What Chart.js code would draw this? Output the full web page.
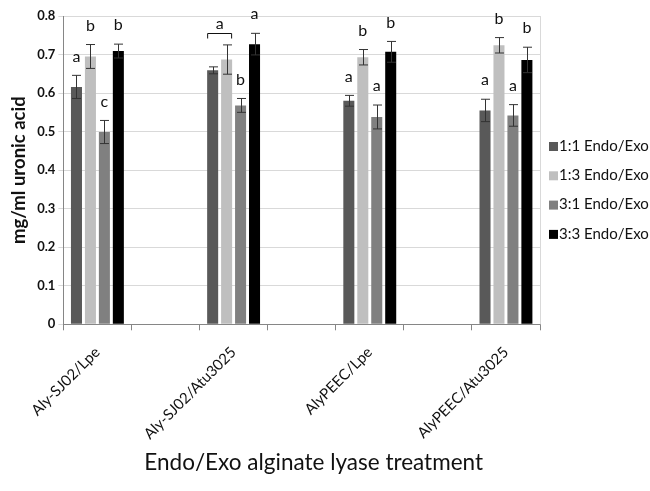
<!DOCTYPE html>
<html>
<head>
<meta charset="utf-8">
<script src="https://cdn.jsdelivr.net/npm/chart.js@4.4.0/dist/chart.umd.min.js"></script>
<style>
  body { margin: 0; background: #fff; }
  #caixa { width: 650px; height: 491px; }
</style>
</head>
<body>
<div id="caixa"><canvas id="grafico"></canvas></div>
<script>
// categorias (com espacos vazios entre os grupos)
var categorias = ['Aly-SJ02/Lpe', '', 'Aly-SJ02/Atu3025', '', 'AlyPEEC/Lpe', '', 'AlyPEEC/Atu3025'];
var series = ['1:1 Endo/Exo', '1:3 Endo/Exo', '3:1 Endo/Exo', '3:3 Endo/Exo'];
var cores = ['#595959', '#bfbfbf', '#808080', '#000000'];
var tituloX = 'Endo/Exo alginate lyase treatment';

// medias
var v11 = [0.616, null, 0.659, null, 0.580, null, 0.555];
var v13 = [0.695, null, 0.687, null, 0.693, null, 0.724];
var v31 = [0.499, null, 0.568, null, 0.538, null, 0.542];
var v33 = [0.709, null, 0.727, null, 0.707, null, 0.686];

// desvios
var e11 = [0.030, null, 0.009, null, 0.014, null, 0.029];
var e13 = [0.031, null, 0.038, null, 0.020, null, 0.020];
var e31 = [0.030, null, 0.018, null, 0.031, null, 0.028];
var e33 = [0.018, null, 0.028, null, 0.027, null, 0.033];

// letras de significancia
var l11 = ['a', '', '', '', 'a', '', 'a'];
var l13 = ['b', '', '', '', 'b', '', 'b'];
var l31 = ['c', '', 'b', '', 'a', '', 'a'];
var l33 = ['b', '', 'a', '', 'b', '', 'b'];
// colchete "a" sobre 1:1 e 1:3 no segundo grupo
var colchete = { categoria: 2, de: 0, ate: 1, letra: 'a' };

var ticksY = { min: 0, max: 0.8, passo: 0.1 };

var valores = [v11, v13, v31, v33];
var erros = [e11, e13, e31, e33];
var letras = [l11, l13, l31, l33];

var fonte = 'Lato, "Open Sans", sans-serif';

//..........BARRAS DE ERRO, LETRAS, LEGENDA E TITULO X..........
var extras = {
    id: 'extras',
    afterDatasetsDraw: function(chart) {
        var ctx = chart.ctx;
        var y = chart.scales.y;
        var area = chart.chartArea;
        ctx.save();

        // borda direita
        ctx.strokeStyle = '#d9d9d9';
        ctx.lineWidth = 1;
        ctx.beginPath();
        ctx.moveTo(Math.round(area.right) + 0.5, area.top);
        ctx.lineTo(Math.round(area.right) + 0.5, area.bottom);
        ctx.stroke();

        ctx.font = '16px ' + fonte;
        ctx.textAlign = 'center';
        ctx.textBaseline = 'middle';

        for (var i = 0; i < valores.length; i++) {
            var meta = chart.getDatasetMeta(i);
            for (var j = 0; j < categorias.length; j++) {
                var v = valores[i][j];
                if (v === null) continue;
                var barra = meta.data[j];
                var x = Math.round(barra.x) + 0.5;
                var topo = y.getPixelForValue(v + erros[i][j]);
                var base = y.getPixelForValue(v - erros[i][j]);
                ctx.strokeStyle = '#333';
                ctx.beginPath();
                ctx.moveTo(x, topo); ctx.lineTo(x, base);
                ctx.moveTo(x - 4.5, topo); ctx.lineTo(x + 4.5, topo);
                ctx.moveTo(x - 4.5, base); ctx.lineTo(x + 4.5, base);
                ctx.stroke();
                if (letras[i][j]) {
                    ctx.fillStyle = '#111';
                    ctx.fillText(letras[i][j], barra.x, topo - 19);
                }
            }
        }

        // colchete
        var b1 = chart.getDatasetMeta(colchete.de).data[colchete.categoria];
        var b2 = chart.getDatasetMeta(colchete.ate).data[colchete.categoria];
        var maxTopo = Math.min(
            y.getPixelForValue(valores[colchete.de][colchete.categoria] + erros[colchete.de][colchete.categoria]),
            y.getPixelForValue(valores[colchete.ate][colchete.categoria] + erros[colchete.ate][colchete.categoria]));
        var yc = Math.round(maxTopo - 12) + 0.5;
        ctx.strokeStyle = '#111';
        ctx.beginPath();
        ctx.moveTo(b1.x - 5, yc + 5); ctx.lineTo(b1.x - 5, yc);
        ctx.lineTo(b2.x + 5, yc); ctx.lineTo(b2.x + 5, yc + 5);
        ctx.stroke();
        ctx.fillStyle = '#111';
        ctx.fillText(colchete.letra, (b1.x + b2.x) / 2, yc - 10);

        // legenda
        ctx.font = '15px ' + fonte;
        ctx.textAlign = 'left';
        for (var k = 0; k < series.length; k++) {
            var ly = area.top + 130 + k * 29.3;
            ctx.fillStyle = cores[k];
            ctx.fillRect(area.right + 9, ly - 4, 9, 9);
            ctx.fillStyle = '#111';
            ctx.fillText(series[k], area.right + 19, ly);
        }

        // titulo do eixo x
        ctx.font = '22.5px ' + fonte;
        ctx.textAlign = 'center';
        ctx.fillText(tituloX, (area.left + area.right) / 2 + 12, chart.height - 28);
        ctx.restore();
    }
};

var conjuntos = valores.map(function(d, i) {
    return {
        label: series[i],
        data: d,
        backgroundColor: cores[i],
        borderWidth: 0,
        categoryPercentage: 0.82,
        barPercentage: 0.79
    };
});

var ctx = document.getElementById('grafico').getContext('2d');
var grafico = new Chart(ctx, {
    type: 'bar',
    data: { labels: categorias, datasets: conjuntos },
    options: {
        responsive: true,
        maintainAspectRatio: false,
        animation: false,
        layout: { padding: { top: 16, right: 110, bottom: 35, left: 4 } },
        plugins: {
            legend: { display: false },
            tooltip: { enabled: false }
        },
        scales: {
            x: {
                grid: { offset: true, drawOnChartArea: false, tickLength: 6, color: '#868686' },
                border: { color: '#868686' },
                ticks: {
                    autoSkip: false, minRotation: 45, maxRotation: 45, padding: 13,
                    color: '#111', font: { family: fonte, size: 15 }
                }
            },
            y: {
                min: ticksY.min, max: ticksY.max,
                grid: { color: '#d9d9d9', tickLength: 5 },
                border: { color: '#868686' },
                ticks: {
                    stepSize: ticksY.passo, color: '#111',
                    font: { family: fonte, size: 13, weight: 'bold' },
                    callback: function(v) { return v === 0 ? '0' : v.toFixed(1); }
                },
                title: {
                    display: true, text: 'mg/ml uronic acid', color: '#111',
                    font: { family: fonte, size: 18.5, weight: 'bold' }
                }
            }
        }
    },
    plugins: [extras]
});
</script>
</body>
</html>
